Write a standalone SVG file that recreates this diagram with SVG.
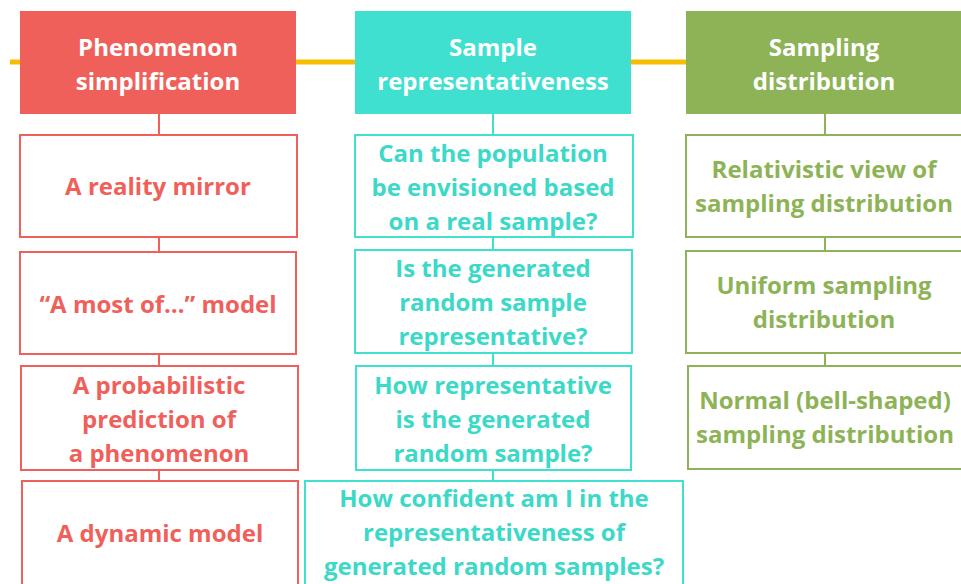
<svg xmlns="http://www.w3.org/2000/svg" width="961" height="584" viewBox="0 0 961 584">
<style>
text{font-family:"Open Sans",Lato,"Liberation Sans",sans-serif;font-weight:bold;font-size:24px;text-anchor:middle}
.hr{fill:#F0605A}.ht{fill:#40E0D0}.hg{fill:#8DB356}
.br{fill:#fff;stroke:#F0605A;stroke-width:2}
.bt{fill:#fff;stroke:#40E0D0;stroke-width:2}
.bg{fill:#fff;stroke:#8DB356;stroke-width:2}
.tw{fill:#fff}.tr{fill:#F0605A}.tt{fill:#3CD8C8}.tg{fill:#8DB356}
.cr{stroke:#F0605A;stroke-width:2}.ct{stroke:#40E0D0;stroke-width:2}.cg{stroke:#8DB356;stroke-width:2}
.cy{stroke:#F7BD00;stroke-width:5}
</style>
<rect width="961" height="584" fill="#fff"/>
<g id="connectors">
<line class="cy" x1="10" y1="62" x2="960" y2="62"/>
<line class="cr" x1="159" y1="113" x2="159" y2="482"/>
<line class="ct" x1="493" y1="113" x2="493" y2="482"/>
<line class="cg" x1="825" y1="113" x2="825" y2="367"/>
</g>
<g id="h1"><rect class="hr" x="20" y="11" width="276" height="103"/><text class="tw" x="158" y="56">Phenomenon</text><text class="tw" x="158" y="90">simplification</text></g>
<g id="h2"><rect class="ht" x="355" y="11" width="276" height="103"/><text class="tw" x="493" y="56">Sample</text><text class="tw" x="493" y="90">representativeness</text></g>
<g id="h3"><rect class="hg" x="686" y="11" width="276" height="103"/><text class="tw" x="824" y="56">Sampling</text><text class="tw" x="824" y="90">distribution</text></g>
<g id="r1"><rect class="br" x="20" y="135" width="277" height="102"/><text class="tr" x="158" y="195">A reality mirror</text></g>
<g id="r2"><rect class="br" x="20" y="252" width="276" height="102"/><text class="tr" x="158" y="313">“A most of…” model</text></g>
<g id="r3"><rect class="br" x="21" y="366" width="277" height="104"/><text class="tr" x="159" y="394">A probabilistic</text><text class="tr" x="159" y="428">prediction of</text><text class="tr" x="159" y="462">a phenomenon</text></g>
<g id="r4"><rect class="br" x="22" y="481" width="276" height="104"/><text class="tr" x="160" y="542">A dynamic model</text></g>
<g id="t1"><rect class="bt" x="355" y="135" width="278" height="102"/><text class="tt" x="493" y="162">Can the population</text><text class="tt" x="493" y="196">be envisioned based</text><text class="tt" x="493" y="230">on a real sample?</text></g>
<g id="t2"><rect class="bt" x="355" y="250" width="277" height="103"/><text class="tt" x="493" y="277">Is the generated</text><text class="tt" x="493" y="311">random sample</text><text class="tt" x="493" y="345">representative?</text></g>
<g id="t3"><rect class="bt" x="356" y="366" width="275" height="104"/><text class="tt" x="493" y="394">How representative</text><text class="tt" x="493" y="428">is the generated</text><text class="tt" x="493" y="462">random sample?</text></g>
<g id="t4"><rect class="bt" x="305" y="481" width="378" height="104"/><text class="tt" x="494" y="507">How confident am I in the</text><text class="tt" x="494" y="541">representativeness of</text><text class="tt" x="494" y="575">generated random samples?</text></g>
<g id="g1"><rect class="bg" x="686" y="135" width="277" height="102"/><text class="tg" x="824" y="178">Relativistic view of</text><text class="tg" x="824" y="212">sampling distribution</text></g>
<g id="g2"><rect class="bg" x="686" y="251" width="277" height="102"/><text class="tg" x="824" y="294">Uniform sampling</text><text class="tg" x="824" y="328">distribution</text></g>
<g id="g3"><rect class="bg" x="688" y="366" width="275" height="103"/><text class="tg" x="825" y="409">Normal (bell-shaped)</text><text class="tg" x="825" y="443">sampling distribution</text></g>
</svg>
